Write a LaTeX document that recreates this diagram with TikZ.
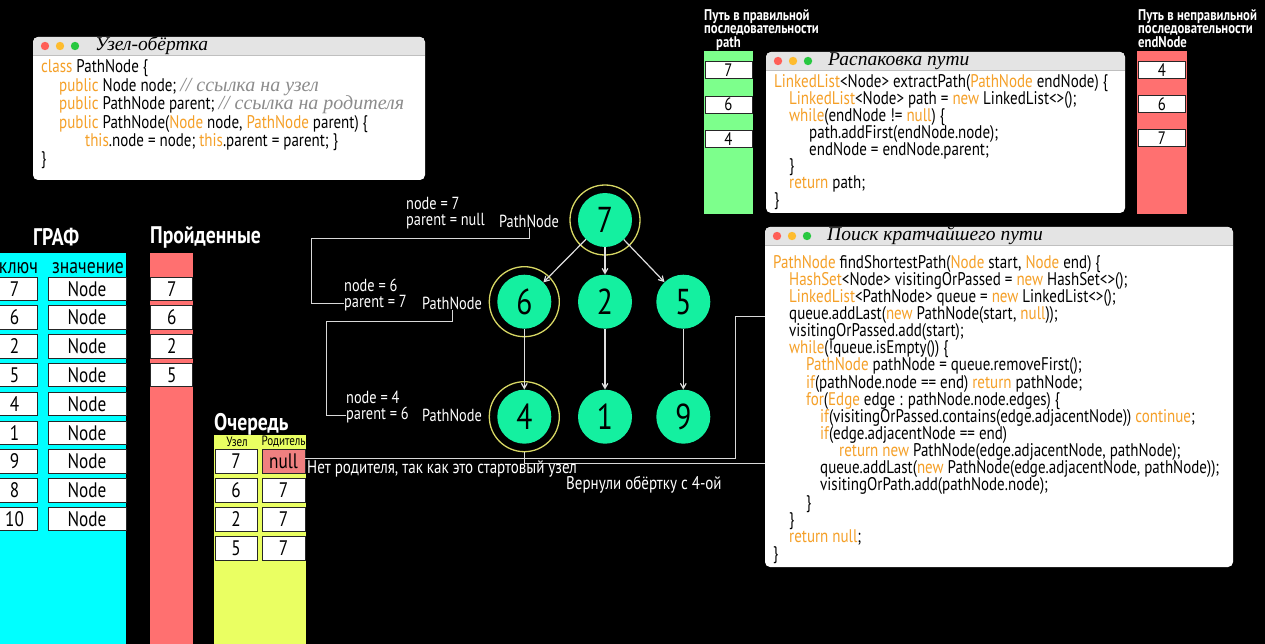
\documentclass[tikz,border=0pt]{standalone}
\usepackage{fontspec}
\setmainfont{PT Sans}[FakeStretch=0.82]
\newfontfamily\handfont{Liberation Serif}
\usetikzlibrary{calc}
\usetikzlibrary{arrows}

\definecolor{graphcol}{RGB}{0,255,255}
\definecolor{kwcol}{RGB}{245,160,40}
\definecolor{cmtcol}{RGB}{140,140,140}
\definecolor{passcol}{RGB}{255,112,112}
\definecolor{queuecol}{RGB}{234,255,98}
\definecolor{nullcol}{RGB}{240,128,128}
\definecolor{pathcol}{RGB}{125,255,140}
\definecolor{vertcol}{RGB}{20,240,160}
\definecolor{ringcol}{RGB}{215,215,100}
\definecolor{barcol}{RGB}{228,228,228}
\definecolor{dotred}{RGB}{255,95,87}
\definecolor{dotyellow}{RGB}{254,188,46}
\definecolor{dotgreen}{RGB}{40,200,64}

\newcommand\kw[1]{\textcolor{kwcol}{#1}}
\newcommand\cm[1]{{\handfont\itshape\fontsize{20}{20}\selectfont\color{cmtcol}#1}}

% window with title bar and three dots
\newcommand\codewindow[6]{%
  \coordinate (#1nw) at (#2,#3);
  \coordinate (#1se) at (#4,#5);
  \fill[white, rounded corners=5pt] (#1nw) rectangle (#1se);
  \begin{scope}
    \clip[rounded corners=5pt] (#1nw) rectangle (#1se);
    \fill[barcol] (#2,#3) rectangle (#4,#3+18);
  \end{scope}
  \draw[black!25] (#2,#3+18) -- (#4,#3+18);
  \fill[dotred] (#2+12,#3+9) circle (4.2pt);
  \fill[dotyellow] (#2+27,#3+9) circle (4.2pt);
  \fill[dotgreen] (#2+42,#3+9) circle (4.2pt);
  \node[wintitle] (#1title) at (#2+62,#3+9) {#6};
}

\begin{document}
\begin{tikzpicture}[x=1pt, y=-1pt,
  cell/.style={draw=black!85, line width=0.8pt, fill=white, inner sep=0pt, minimum height=23.5pt, font=\fontsize{21}{21}\selectfont},
  smallcell/.style={cell, minimum width=47pt, minimum height=17pt, font=\fontsize{18}{18}\selectfont},
  colhead/.style={inner sep=0pt, text=black, font=\fontsize{21.5}{21.5}\selectfont},
  qhead/.style={inner sep=0pt, text=black, font=\fontsize{13.5}{13.5}\selectfont},
  heading/.style={anchor=west, inner sep=0pt, text=white, font=\bfseries\fontsize{24}{24}\selectfont},
  pathhead/.style={anchor=north west, inner sep=0pt, align=left, text=white, font=\bfseries\fontsize{15.5}{13.5}\selectfont},
  code/.style={anchor=base west, inner sep=0pt, text=black, font=\fontsize{18.3}{18.3}\selectfont},
  wintitle/.style={anchor=west, inner sep=0pt, text=black, font=\handfont\itshape\fontsize{19.5}{19.5}\selectfont},
  vert/.style={circle, fill=vertcol, minimum size=54pt, inner sep=0pt, font=\fontsize{36}{36}\selectfont},
  ring/.style={circle, draw=ringcol, line width=1.3pt, minimum size=70pt, inner sep=0pt},
  arrowline/.style={white!88!black, line width=1.2pt, ->, >=angle 60},
  lbl/.style={anchor=west, inner sep=0pt, text=white, font=\fontsize{17.5}{17.5}\selectfont},
  note/.style={anchor=west, inner sep=0pt, text=white, font=\fontsize{18.3}{18.3}\selectfont},
  link/.style={white!85!black, line width=1pt}]

\useasboundingbox (0,0) rectangle (1265,644);
\fill[black] (0,0) rectangle (1265,644);

% graph table
\node[heading] (hgraph) at (33,237) {ГРАФ};
\fill[graphcol] (-10,253) rectangle (126,650);
\node[colhead] (hkey) at (18.5,268) {ключ};
\node[colhead] (hval) at (88,268) {значение};
\foreach \k [count=\i from 0] in {7,6,2,5,4,1,9,8,10} {
  \node[cell, minimum width=45pt] (key\i) at (14.5, 288.7+28.8*\i) {\k};
  \node[cell, minimum width=78pt] (val\i) at (87, 288.7+28.8*\i) {Node};
}

% passed
\node[heading] (hpassed) at (150,237) {Пройденные};
\fill[passcol] (150,253) rectangle (193,650);
\foreach \k [count=\i from 0] in {7,6,2,5}
  \node[cell, minimum width=42pt] (done\i) at (171.7, 288.7+28.8*\i) {\k};

% queue
\node[heading] (hqueue) at (214,424) {Очередь};
\fill[queuecol] (214,435) rectangle (306,650);
\node[qhead] (hqnode) at (237,442) {Узел};
\node[qhead] (hqpar) at (283.5,442) {Родитель};
\node[cell, minimum width=42pt, minimum height=24pt] (qn0) at (236, 461.5) {7};
\node[cell, minimum width=43pt, minimum height=24pt, fill=nullcol] (qp0) at (283.5, 461.5) {null};
\foreach \k/\p [count=\i from 1] in {6/7,2/7,5/7} {
  \node[cell, minimum width=42pt, minimum height=24pt] (qn\i) at (236, 461.5+28.8*\i) {\k};
  \node[cell, minimum width=43pt, minimum height=24pt] (qp\i) at (283.5, 461.5+28.8*\i) {\p};
}

% path columns
\node[pathhead] (hpath) at (704,9) {Путь в правильной\\последовательности\\\hspace*{12pt}path};
\fill[pathcol] (704,51) rectangle (753,214);
\foreach \k [count=\i from 0] in {7,6,4}
  \node[smallcell] (path\i) at (728.5, 70+34.5*\i) {\k};
\node[pathhead] (hend) at (1138,9) {Путь в неправильной\\последовательности\\endNode};
\fill[passcol] (1137,51) rectangle (1187,214);
\foreach \k [count=\i from 0] in {4,6,7}
  \node[smallcell] (end\i) at (1162, 70.3+34*\i) {\k};

% windows
\codewindow{wa}{33}{37}{425}{180}{Узел-обёртка}
\foreach \x/\t [count=\i from 0] in {
  41/{\kw{class} PathNode \{},
  59/{\kw{public} Node node; \cm{// ссылка на узел}},
  59/{\kw{public} PathNode parent; \cm{// ссылка на родителя}},
  59/{\kw{public} PathNode(\kw{Node} node, \kw{PathNode} parent) \{},
  85/{\kw{this}.node = node; \kw{this}.parent = parent; \}},
  41/{\}}}
  \node[code] (wrap\i) at (\x, 72.7+18.45*\i) {\t};

\codewindow{wb}{766}{52}{1125}{213}{Распаковка пути}
\foreach \x/\t [count=\i from 0] in {
  774/{\kw{LinkedList}<Node> extractPath(\kw{PathNode} endNode) \{},
  789/{\kw{LinkedList}<Node> path = \kw{new} LinkedList<>();},
  789/{\kw{while}(endNode != \kw{null}) \{},
  809/{path.addFirst(endNode.node);},
  809/{endNode = endNode.parent;},
  789/{\}},
  789/{\kw{return} path;},
  774/{\}}}
  \node[code] (extract\i) at (\x, 88+16.8*\i) {\t};

\codewindow{wc}{765}{227}{1233}{567}{Поиск кратчайшего пути}
\foreach \x/\t [count=\i from 0] in {
  773/{\kw{PathNode} findShortestPath(\kw{Node} start, \kw{Node} end) \{},
  789/{\kw{HashSet}<Node> visitingOrPassed = \kw{new} HashSet<>();},
  789/{\kw{LinkedList}<PathNode> queue = \kw{new} LinkedList<>();},
  789/{queue.addLast(\kw{new} PathNode(start, \kw{null}));},
  789/{visitingOrPassed.add(start);},
  789/{\kw{while}(!queue.isEmpty()) \{},
  806/{\kw{PathNode} pathNode = queue.removeFirst();},
  806/{\kw{if}(pathNode.node == end) \kw{return} pathNode;},
  806/{\kw{for}(\kw{Edge} edge : pathNode.node.edges) \{},
  820/{\kw{if}(visitingOrPassed.contains(edge.adjacentNode)) \kw{continue};},
  820/{\kw{if}(edge.adjacentNode == end)},
  839/{\kw{return new} PathNode(edge.adjacentNode, pathNode);},
  820/{queue.addLast(\kw{new} PathNode(edge.adjacentNode, pathNode));},
  820/{visitingOrPath.add(pathNode.node);},
  806/{\}},
  789/{\}},
  789/{\kw{return null};},
  773/{\}}}
  \node[code] (search\i) at (\x, 268+17.15*\i) {\t};

% tree
\node[vert] (v7) at (605,220) {7};
\node[vert] (v6) at (524.3,301.7) {6};
\node[vert] (v2) at (605,301.7) {2};
\node[vert] (v5) at (683.3,301.7) {5};
\node[vert] (v4) at (524.3,416.7) {4};
\node[vert] (v1) at (605,416.7) {1};
\node[vert] (v9) at (683.3,416.7) {9};
\foreach \n in {7,6,4}
  \node[ring] (r\n) at (v\n) {};
\foreach \a/\b in {7/6,7/2,7/5,6/4,2/1,5/9}
  \draw[arrowline] (v\a) -- (v\b);

\node[lbl] (nd7) at (406,203) {node = 7};
\node[lbl] (par7) at (406,221) {parent = null};
\node[lbl] (pnode7) at (499,221) {PathNode};
\node[lbl] (nd6) at (344,285) {node = 6};
\node[lbl] (par6) at (344,303) {parent = 7};
\node[lbl] (pnode6) at (422,303) {PathNode};
\node[lbl] (nd4) at (346,397) {node = 4};
\node[lbl] (par4) at (346,415) {parent = 6};
\node[lbl] (pnode4) at (422,415) {PathNode};

\draw[link] (pnode7.south) |- (311,239) |- (par6.west);
\draw[link] (pnode6.south) |- (326,321) |- (par4.west);

\coordinate (qhook) at (735,316);
\coordinate (retY) at (0,463);
\draw[link] ([yshift=3pt]qp0.east) -| (qhook) -- (qhook -| wcnw);
\draw[link] (r4.south) |- (wcnw |- retY);
\node[note] (nonull) at (307,469) {Нет родителя, так как это стартовый узел};
\node[note] (gotfour) at (566,485) {Вернули обёртку с 4-ой};
\end{tikzpicture}
\end{document}
